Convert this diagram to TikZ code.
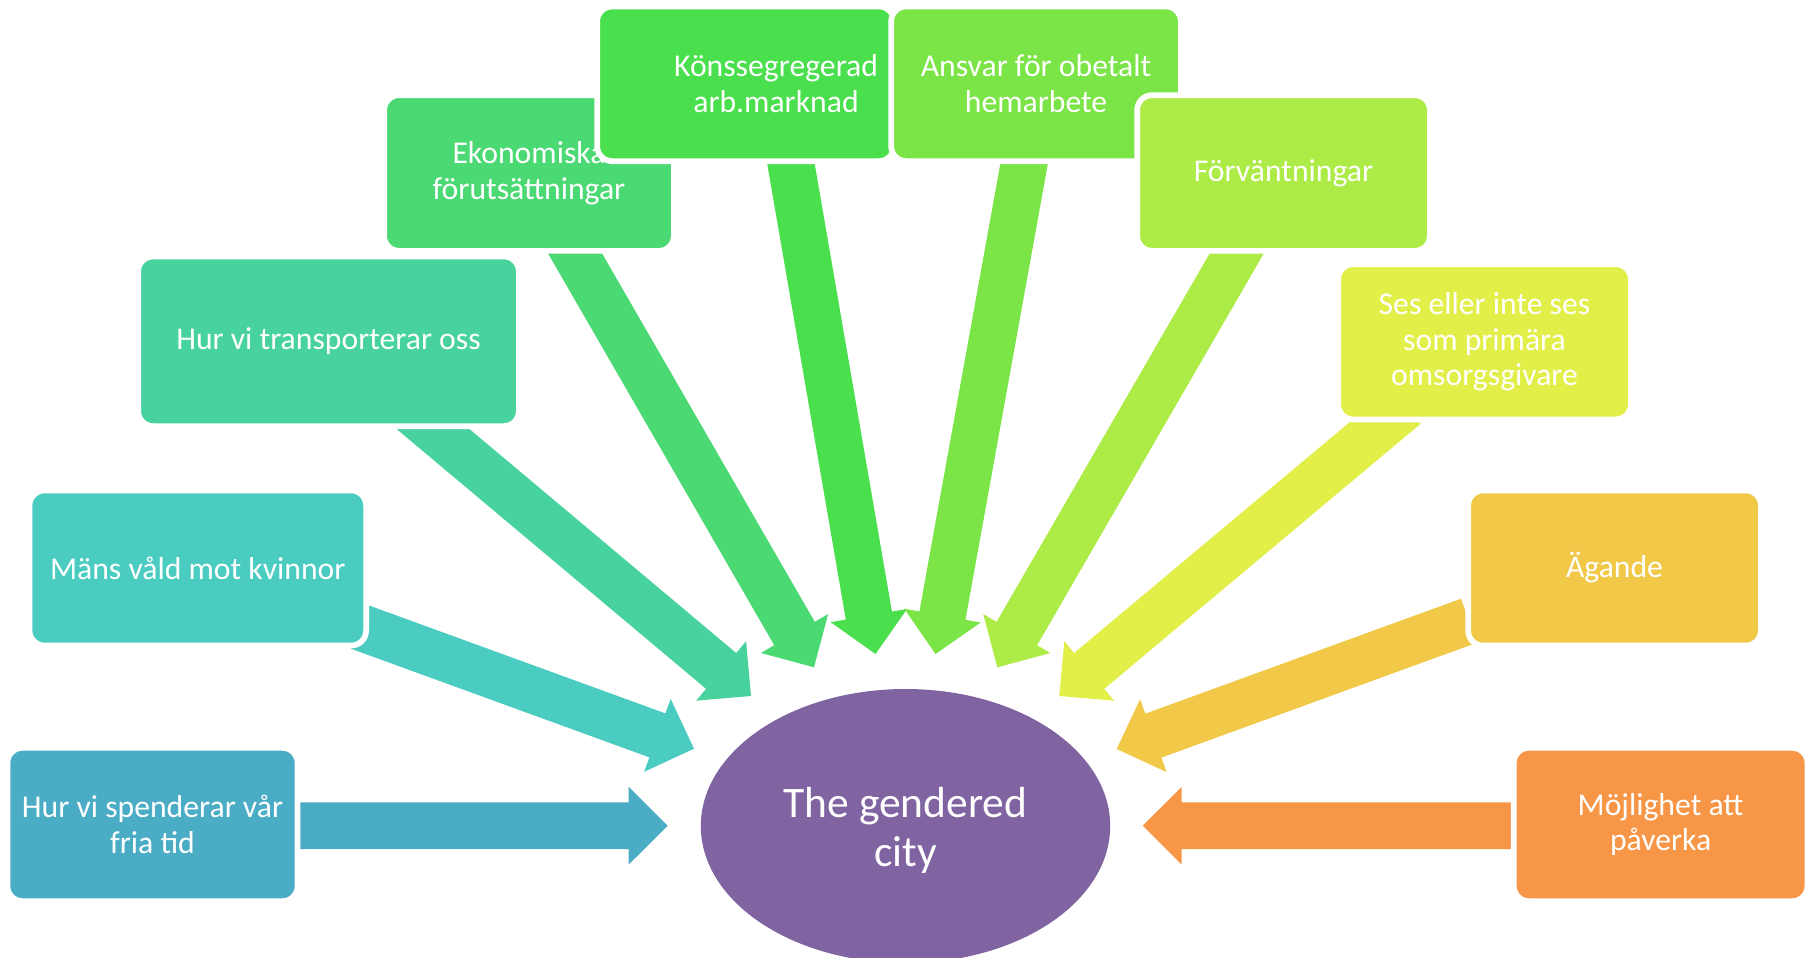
\documentclass[tikz,border=0pt]{standalone}
\usepackage{fontspec}
\setmainfont{Carlito}
\usetikzlibrary{calc,shapes.geometric}
\definecolor{c1}{HTML}{4BACC6}
\definecolor{c2}{HTML}{4BCCC1}
\definecolor{c3}{HTML}{48D29E}
\definecolor{c4}{HTML}{4AD973}
\definecolor{c5}{HTML}{4ADF4C}
\definecolor{c6}{HTML}{7BE446}
\definecolor{c7}{HTML}{ADEB47}
\definecolor{c8}{HTML}{E2EF48}
\definecolor{c9}{HTML}{F2C848}
\definecolor{c10}{HTML}{F79646}
\definecolor{cityc}{HTML}{8064A2}
\newcommand{\blockarr}[3]{%
  \coordinate (#2h) at ($(#2)!39pt!(#1)$);
  \fill[#3] ($(#1)!23.4pt!90:(#2)$) -- ($(#2h)!23.4pt!90:(#2)$) -- ($(#2h)!38.8pt!90:(#2)$) -- (#2)
    -- ($(#2h)!38.8pt!-90:(#2)$) -- ($(#2h)!23.4pt!-90:(#2)$) -- ($(#1)!23.4pt!-90:(#2)$) -- cycle;}
\tikzset{
  box/.style={rectangle, rounded corners=15pt, draw=white, line width=5.7pt, text=white,
    align=center, inner sep=0pt, font=\fontsize{31.7}{35.7}\selectfont},
  boxtext/.style={text=white, align=center, inner sep=0pt, font=\fontsize{31.7}{35.7}\selectfont},
  citynode/.style={ellipse, fill=cityc, inner sep=0pt, text=white, align=center,
    font=\fontsize{43.5}{49}\selectfont}
}
\begin{document}
\begin{tikzpicture}[x=1pt,y=-1pt]
\useasboundingbox (0,0) rectangle (1808,958);
\fill[white] (0,0) rectangle (1808,958);
% arrow end points
\coordinate (t1) at (296,825.7);   \coordinate (p1) at (667.7,825.7);
\coordinate (t2) at (358.9,626.7); \coordinate (p2) at (694,748.7);
\coordinate (t3) at (410,409.7);   \coordinate (p3) at (751,696);
\coordinate (t4) at (561.5,230);   \coordinate (p4) at (814,667.3);
\coordinate (t5) at (787.6,144.3); \coordinate (p5) at (875.5,654);
\coordinate (t6) at (1027.6,144.3);\coordinate (p6) at (935.5,654);
\coordinate (t7) at (1249.5,231.4);\coordinate (p7) at (997.3,667.3);
\coordinate (t8) at (1405.5,405.9);\coordinate (p8) at (1059.3,696);
\coordinate (t9) at (1469,620.7);  \coordinate (p9) at (1116.7,749);
\coordinate (t10) at (1515,825.7); \coordinate (p10) at (1142.7,825.7);
\blockarr{t1}{p1}{c1}
\blockarr{t2}{p2}{c2}
\blockarr{t3}{p3}{c3}
\blockarr{t4}{p4}{c4}
\blockarr{t5}{p5}{c5}
\blockarr{t6}{p6}{c6}
\blockarr{t7}{p7}{c7}
\blockarr{t8}{p8}{c8}
\blockarr{t9}{p9}{c9}
\blockarr{t10}{p10}{c10}
% centre
\node[ellipse, fill=cityc, inner sep=0pt, minimum width=409.4pt, minimum height=274pt] (city) at (905.5,826) {};
\node[citynode, fill=none] (citytext) at (905.5,830) {The gendered\\city};
% boxes
\node[box, fill=c1, minimum width=290.1pt, minimum height=153.3pt] (b1) at (152.5,824.5) {Hur vi spenderar vår\\fria tid};
\node[box, fill=c2, minimum width=336.7pt, minimum height=155.1pt] (b2) at (197.8,568) {Mäns våld mot kvinnor};
\node[box, fill=c3, minimum width=380.7pt, minimum height=169.7pt] (b3) at (328.5,341.3) {Hur vi transporterar oss};
\node[box, fill=c4, minimum width=289.7pt, minimum height=155.7pt] (b4) at (529,173) {Ekonomiska\\förutsättningar};
\node[box, fill=c5, minimum width=296.7pt, minimum height=154.7pt] (b5) at (745.5,83.8) {};
\node[boxtext] (b5text) at (776,83.8) {Könssegregerad\\arb.marknad};
\node[box, fill=c6, minimum width=289.7pt, minimum height=154.7pt] (b6) at (1036,83.8) {Ansvar för obetalt\\hemarbete};
\node[box, fill=c7, minimum width=292.7pt, minimum height=155.7pt] (b7) at (1283.5,173) {Förväntningar};
\node[box, fill=c8, minimum width=292.7pt, minimum height=155.2pt] (b8) at (1484.5,341.8) {Ses eller inte ses\\som primära\\omsorgsgivare};
\node[box, fill=c9, minimum width=292.7pt, minimum height=155.1pt] (b9) at (1614.5,568) {Ägande};
\node[box, fill=c10, minimum width=293.6pt, minimum height=153.3pt] (b10) at (1660.6,824.5) {Möjlighet att\\påverka};
\end{tikzpicture}
\end{document}
